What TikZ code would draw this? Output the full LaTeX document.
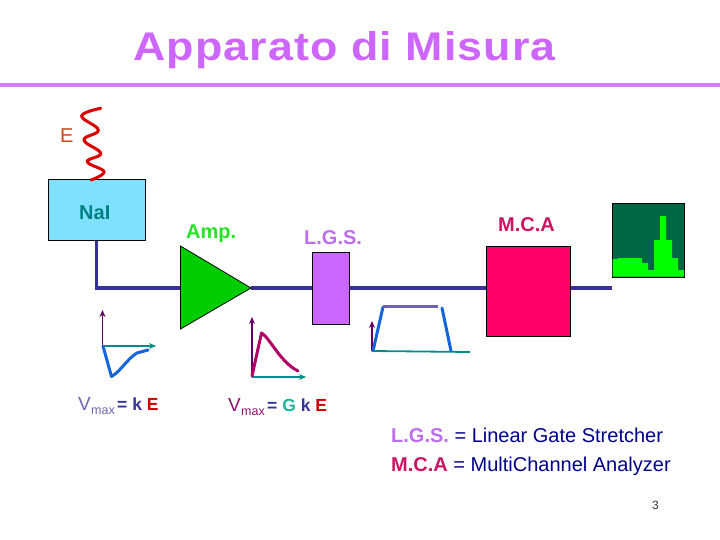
\documentclass[tikz,border=0pt]{standalone}
\usepackage{fontspec}
\setmainfont{Liberation Sans}
\usetikzlibrary{arrows.meta}
\definecolor{wire}{RGB}{51,51,153}
\definecolor{titlec}{RGB}{204,102,255}
\definecolor{lgsc}{RGB}{190,110,235}
\definecolor{nai}{RGB}{128,224,255}
\definecolor{naitxt}{RGB}{0,128,128}
\definecolor{ampg}{RGB}{0,204,0}
\definecolor{ampt}{RGB}{40,225,40}
\definecolor{mca}{RGB}{255,0,102}
\definecolor{mcat}{RGB}{204,20,100}
\definecolor{hbg}{RGB}{0,102,68}
\definecolor{hfg}{RGB}{0,255,0}
\definecolor{axv}{RGB}{102,0,102}
\definecolor{axh}{RGB}{0,140,140}
\definecolor{pblue}{RGB}{20,100,220}
\definecolor{pmag}{RGB}{180,0,100}
\definecolor{ered}{RGB}{204,0,0}
\definecolor{eorange}{RGB}{210,70,30}
\definecolor{vlil}{RGB}{110,100,180}
\definecolor{vpur}{RGB}{140,20,110}
\definecolor{gtxt}{RGB}{30,180,150}
\definecolor{dblue}{RGB}{0,0,140}
\tikzset{
  wireline/.style={draw=wire,line width=3.2pt},
  yax/.style={draw=axv,line width=1.8pt,-{Stealth[length=7pt,width=6pt]}},
  xax/.style={draw=axh,line width=1.8pt,-{Stealth[length=7pt,width=6pt]}},
  lab/.style={inner sep=0pt,anchor=base west},
  pulse/.style={line width=3pt,line cap=round,line join=round},
  boxlab/.style={lab,font=\bfseries\fontsize{20}{22}\selectfont}
}
\begin{document}
\begin{tikzpicture}[x=1pt,y=-1pt]
\useasboundingbox (0,0) rectangle (720,540);
% title
\node[lab,text=titlec,xscale=1.12,font=\bfseries\fontsize{40}{44}\selectfont\addfontfeatures{LetterSpace=2.5}] (title) at (133,61) {Apparato di Misura};
\coordinate (rl) at (0,85); \coordinate (rr) at (720,85);
\draw[titlec!85!white,line width=3.2pt] (rl) -- (rr);
% gamma
\node[lab,text=eorange,font=\fontsize{20}{24}\selectfont] (elab) at (60,143) {E};
% wires
\coordinate (wend) at (612,288);
\node[draw=black,line width=1pt,fill=nai,minimum width=97pt,minimum height=60pt,inner sep=0pt] (naibox) at (96.5,210) {};
\draw[red!85!black,line width=3pt,line cap=round] plot[smooth,tension=0.7] coordinates {(100.7,108.3) (81.7,116) (98.3,130) (84,140) (100.7,153.3) (87.3,161.7) (104,171.7) (91,180)};
\node[boxlab,text=naitxt] (nailab) at (79,220) {NaI};
% amp
\coordinate (ta) at (180.5,246); \coordinate (tb) at (180.5,329); \coordinate (tc) at (251,288);
\coordinate (bend) at (96.5,288);
\draw[wireline] (naibox.south) -- (bend) -- (180.5,288);
\draw[wireline] (tc) -- (312,288);
\draw[wireline] (349,288) -- (486,288);
\draw[wireline] (570,288) -- (wend);
\path[fill=ampg,draw=black,line width=0.8pt] (ta) -- (tc) -- (tb) -- cycle;
\node[boxlab,text=ampt] (amplab) at (186,238) {Amp.};
% LGS
\node[draw=black,line width=1pt,fill=titlec,minimum width=37pt,minimum height=72pt,inner sep=0pt] (lgs) at (330.5,288) {};
\node[boxlab,text=lgsc] (lgslab) at (304,244) {L.G.S.};
% MCA
\node[draw=black,line width=1pt,fill=mca,minimum width=84pt,minimum height=90pt,inner sep=0pt] (mcabox) at (528,291) {};
\node[boxlab,text=mcat] (mcalab) at (498,232) {M.C.A};
% histogram
\node[draw=black,line width=1pt,fill=hbg,minimum width=72pt,minimum height=73pt,inner sep=0pt] (histo) at (648,240.5) {};
\fill[hfg] (612.7,276.7) -- (612.7,259) -- (618,259) -- (618,258) -- (642,258) -- (642,263) -- (648,263) -- (648,270) -- (654,270) -- (654,240) -- (660,240) -- (660,216) -- (666,216) -- (666,240) -- (672,240) -- (672,258) -- (678,258) -- (678,270) -- (684,270) -- (684,276.7) -- cycle;
% pulse 1
\coordinate (p1o) at (102.5,346); \coordinate (p1y) at (102.5,310); \coordinate (p1x) at (156,346);
\draw[yax] (p1o) -- (p1y);
\draw[xax] (p1o) -- (p1x);
\draw[pblue,pulse] (103,346) -- (111.5,376.5) .. controls (120,372) and (128,358) .. (137,353) -- (148,350);
\node[lab,text=vlil,font=\fontsize{19}{20}\selectfont] (v1) at (78,410) {V};
\node[lab,text=vlil,font=\fontsize{12.5}{14}\selectfont] (v1s) at (91,414) {max};
\node[lab,font=\bfseries\fontsize{17.5}{20}\selectfont] (v1e) at (117,410) {\textcolor{wire}{= k }\textcolor{ered}{E}};
% pulse 2
\coordinate (p2o) at (252,377); \coordinate (p2y) at (252,317); \coordinate (p2x) at (306,377);
\draw[yax] (p2o) -- (p2y);
\draw[xax] (p2o) -- (p2x);
\draw[pmag,pulse] (252,376) -- (261.5,333) .. controls (270,338) and (280,362) .. (298,371);
\node[lab,text=vpur,font=\fontsize{19}{20}\selectfont] (v2) at (228,411) {V};
\node[lab,text=vpur,font=\fontsize{12.5}{14}\selectfont] (v2s) at (241,415) {max};
\node[lab,font=\bfseries\fontsize{17.5}{20}\selectfont] (v2e) at (267,411) {\textcolor{wire}{= }\textcolor{gtxt}{G }\textcolor{wire}{k }\textcolor{ered}{E}};
% pulse 3
\coordinate (p3o) at (372,351); \coordinate (p3y) at (372,321); \coordinate (p3x) at (470,352);
\draw[yax] (p3o) -- (p3y);
\draw[axh,line width=1.8pt] (p3o) -- (p3x);
\draw[pblue,pulse] (373,351) -- (383,307);
\draw[vlil,line width=3pt] (383,306.5) -- (438,306.5);
\draw[pblue,pulse] (442,308) -- (451,351);
% legend
\node[lab,font=\fontsize{20}{22}\selectfont] (leg1) at (391,442) {\textcolor{lgsc}{\bfseries L.G.S.} \textcolor{dblue}{= Linear Gate Stretcher}};
\node[lab,font=\fontsize{20}{22}\selectfont] (leg2) at (391,471) {\textcolor{mcat}{\bfseries M.C.A} \textcolor{dblue}{= MultiChannel Analyzer}};
\node[lab,font=\fontsize{12}{14}\selectfont,text=black!80] (pg) at (652,509) {3};
\end{tikzpicture}
\end{document}
